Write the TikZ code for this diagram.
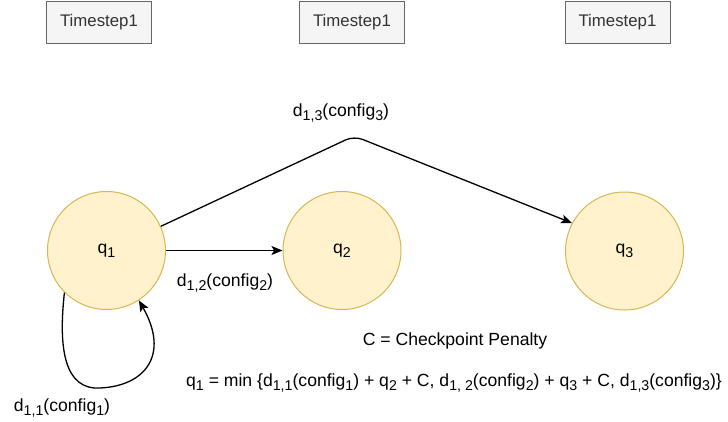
\documentclass[tikz,border=0pt]{standalone}
\usepackage{fontspec}
\setmainfont{Liberation Sans}
\usetikzlibrary{arrows.meta}

\definecolor{stateFill}{HTML}{FFF2CC}
\definecolor{stateLine}{HTML}{D6B656}
\definecolor{tsFill}{HTML}{F5F5F5}
\definecolor{tsLine}{HTML}{666666}
\definecolor{tsText}{HTML}{333333}

% lowered, smaller index text
\newcommand{\lowsub}[1]{\raisebox{-0.45ex}{\fontsize{14.2}{14}\selectfont #1}}

\tikzset{
  tsbox/.style={draw=tsLine, fill=tsFill, text=tsText, line width=1pt,
    minimum width=105pt, minimum height=42pt, inner sep=0pt,
    font=\fontsize{16.8}{19}\selectfont},
  state/.style={circle, draw=stateLine, fill=stateFill, line width=1pt,
    minimum size=118pt, inner sep=0pt},
  edge/.style={line width=1.3pt, -{Stealth[length=11pt, width=9pt, inset=2.5pt]}},
  lbl/.style={inner sep=0pt}
}

\begin{document}
\begin{tikzpicture}[x=1pt, y=-1pt, font=\fontsize{17.6}{20}\selectfont]
  \useasboundingbox (0,0) rectangle (728,421);

  % time step headers
  \node[tsbox] (t1) at (99,22) {Timestep1};
  \node[tsbox] (t2) at (352,22) {Timestep1};
  \node[tsbox] (t3) at (617.5,22) {Timestep1};

  % states
  \node[state] (q1) at (106.5,250.5) {q\lowsub{1}};
  \node[state] (q2) at (342,250.5) {q\lowsub{2}};
  \node[state] (q3) at (624.5,251) {q\lowsub{3}};

  % transitions
  \coordinate (apex) at (354,136);
  \draw[edge] (q1) -- (q2);
  \draw[edge, rounded corners=9pt] (q1.24.6) -- (apex) -- (q3.152.3);
  \draw[edge] (q1.225) .. controls (58,350) and (65,390) .. (100,388)
              .. controls (145,386) and (170,355) .. (q1.303);

  % edge labels
  \node[lbl] (l13) at (341,113) {d\lowsub{1,3}(config\lowsub{3})};
  \node[lbl] (l12) at (225,283) {d\lowsub{1,2}(config\lowsub{2})};
  \node[lbl] (l11) at (62,408) {d\lowsub{1,1}(config\lowsub{1})};

  % notes
  \node[lbl] (pen) at (455,341) {C = Checkpoint Penalty};
  \node[lbl] (rec) at (454,383) {q\lowsub{1} = min \{d\lowsub{1,1}(config\lowsub{1}) + q\lowsub{2} + C, d\lowsub{1, 2}(config\lowsub{2}) + q\lowsub{3} + C, d\lowsub{1,3}(config\lowsub{3})\}};
\end{tikzpicture}
\end{document}
